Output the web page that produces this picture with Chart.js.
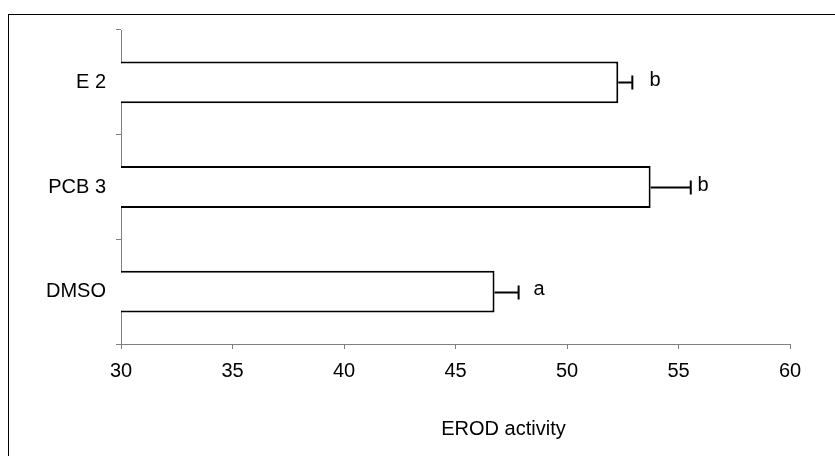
<!DOCTYPE html>
<html>
<head>
<meta charset="utf-8">
<script src="https://cdn.jsdelivr.net/npm/chart.js@4/dist/chart.umd.min.js"></script>
<style>
  html, body { margin: 0; padding: 0; background: #fff; }
  canvas { display: block; }
</style>
</head>
<body>
<canvas id="c" width="835" height="456"></canvas>
<script>
// ---- data ----
const categories = ['E 2', 'PCB 3', 'DMSO'];
const values     = [52.3, 53.75, 46.75];
const errors     = [0.63, 1.8, 1.08];
const letters    = ['b', 'b', 'a'];
const letterAt   = [53.7, 55.85, 48.5];   // x-value where each significance letter starts
const xTicks     = [30, 35, 40, 45, 50, 55, 60];
const xTitle     = 'EROD activity';

const FONT = 'Arial, "Liberation Sans", sans-serif';
const AXIS_GRAY = '#808080';

const framePlugin = {
  id: 'frame',
  beforeDraw(chart) {
    const ctx = chart.ctx;
    ctx.save();
    ctx.fillStyle = '#fff';
    ctx.fillRect(0, 0, chart.width, chart.height);
    ctx.strokeStyle = '#000';
    ctx.lineWidth = 1;
    ctx.strokeRect(8.5, 14.5, 1000, 1000);
    ctx.restore();
  }
};

const errorPlugin = {
  id: 'errs',
  afterDatasetsDraw(chart) {
    const ctx = chart.ctx;
    const xs = chart.scales.x;
    const meta = chart.getDatasetMeta(0);
    ctx.save();
    ctx.strokeStyle = '#000';
    ctx.lineWidth = 2;
    ctx.fillStyle = '#000';
    ctx.font = '20px ' + FONT;
    ctx.textAlign = 'left';
    ctx.textBaseline = 'middle';
    meta.data.forEach((bar, i) => {
      const x0 = xs.getPixelForValue(values[i]);
      const x1 = xs.getPixelForValue(values[i] + errors[i]);
      const y = Math.round(bar.y) + 0.5;
      ctx.beginPath();
      ctx.moveTo(x0, y);
      ctx.lineTo(x1, y);
      ctx.moveTo(x1, y - 7);
      ctx.lineTo(x1, y + 7);
      ctx.stroke();
      ctx.fillText(letters[i], xs.getPixelForValue(letterAt[i]), bar.y - 2);
    });
    ctx.restore();
  }
};

const titlePlugin = {
  id: 'xtitle',
  afterDraw(chart) {
    const ctx = chart.ctx;
    const a = chart.chartArea;
    ctx.save();
    ctx.fillStyle = '#000';
    ctx.font = '20px ' + FONT;
    ctx.textAlign = 'center';
    ctx.textBaseline = 'middle';
    ctx.fillText(xTitle, (a.left + a.right) / 2 + 48, a.bottom + 85);
    ctx.restore();
  }
};

new Chart(document.getElementById('c'), {
  type: 'bar',
  data: {
    labels: categories,
    datasets: [{
      data: values,
      backgroundColor: '#ffffff',
      borderColor: '#000000',
      borderWidth: 2,
      borderSkipped: false,
      categoryPercentage: 1.0,
      barPercentage: 0.4
    }]
  },
  options: {
    indexAxis: 'y',
    responsive: false,
    animation: false,
    devicePixelRatio: 1,
    layout: { padding: { left: 0, top: 30, right: 45, bottom: 0 } },
    plugins: {
      legend: { display: false },
      tooltip: { enabled: false },
      title: { display: false }
    },
    scales: {
      x: {
        type: 'linear',
        min: 30, max: 60,
        afterBuildTicks: s => { s.ticks = xTicks.map(v => ({ value: v })); },
        ticks: { color: '#000', font: { family: FONT, size: 20 }, padding: 10, maxRotation: 0 },
        grid: { drawOnChartArea: false, drawTicks: true, tickLength: 5, color: AXIS_GRAY, lineWidth: 1 },
        border: { color: AXIS_GRAY, width: 1 },
        afterFit: s => { s.height = 112; }
      },
      y: {
        type: 'category',
        offset: true,
        ticks: { color: '#000', font: { family: FONT, size: 20 }, padding: 10 },
        grid: { offset: true, drawOnChartArea: false, drawTicks: true, tickLength: 5, color: AXIS_GRAY, lineWidth: 1 },
        border: { color: AXIS_GRAY, width: 1 },
        afterFit: s => { s.width = 121; }
      }
    }
  },
  plugins: [framePlugin, errorPlugin, titlePlugin]
});
</script>
</body>
</html>
